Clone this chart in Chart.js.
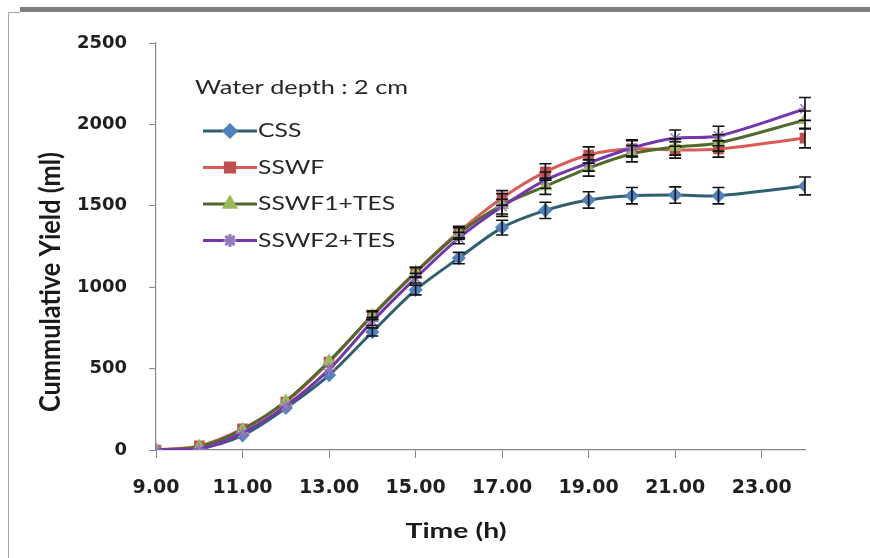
<!DOCTYPE html>
<html>
<head>
<meta charset="utf-8">
<script src="https://cdn.jsdelivr.net/npm/chart.js@4.4.1/dist/chart.umd.min.js"></script>
<style>
  html, body { margin: 0; padding: 0; background: #fff; }
  canvas { display: block; }
</style>
</head>
<body>
<canvas id="yieldChart" width="870" height="558"></canvas>
<script>
// time of day (h) - no reading at 23 h
const hours = [9, 10, 11, 12, 13, 14, 15, 16, 17, 18, 19, 20, 21, 22, 24];

const cssYield   = [0, 10, 90, 258, 460, 725, 983, 1179, 1366, 1472, 1536, 1562, 1566, 1562, 1622];
const sswfYield  = [0, 25, 130, 295, 540, 829, 1093, 1339, 1548, 1708, 1812, 1850, 1843, 1849, 1916];
const sswf1Yield = [0, 20, 125, 300, 545, 825, 1090, 1330, 1505, 1620, 1732, 1820, 1861, 1886, 2027];
const sswf2Yield = [0, 5, 105, 270, 495, 790, 1056, 1302, 1495, 1658, 1763, 1855, 1916, 1929, 2095];

// +/- error bars
const cssErr   = [0, 0, 0, 0, 0, 25, 30, 35, 45, 50, 50, 50, 50, 50, 55];
const sswfErr  = [0, 0, 0, 0, 0, 25, 30, 35, 45, 50, 50, 50, 50, 50, 60];
const sswf1Err = [0, 0, 0, 0, 0, 25, 30, 35, 70, 50, 50, 50, 50, 50, 55];
const sswf2Err = [0, 0, 0, 0, 0, 25, 30, 35, 45, 50, 50, 50, 50, 60, 70];

const seriesNames = ['CSS', 'SSWF', 'SSWF1+TES', 'SSWF2+TES'];
const xTicks = [9, 11, 13, 15, 17, 19, 21, 23];
const yTicks = [0, 500, 1000, 1500, 2000, 2500];

const noteText = 'Water depth : 2 cm';
const xTitle = 'Time (h)';
const yTitle = 'Cummulative Yield (ml)';

const allYields = [cssYield, sswfYield, sswf1Yield, sswf2Yield];
const allErrs = [cssErr, sswfErr, sswf1Err, sswf2Err];

function toPoints(values) {
  return hours.map((h, i) => ({ x: h, y: values[i] }));
}

const styles = [
  { line: '#2f6070', fill: '#4f81bd', stroke: '#4f81bd', shape: 'rectRot', r: 6 },
  { line: '#d95c57', fill: '#c0504d', stroke: '#c0504d', shape: 'rect', r: 6.5 },
  { line: '#4f6a2b', fill: '#9bbb59', stroke: '#9bbb59', shape: 'triangle', r: 6.5 },
  { line: '#7535ad', fill: '#9479bd', stroke: '#9479bd', shape: 'star', r: 6.5 }
];

// draw text stretched sideways, like the old excel picture
function wideText(ctx, text, x, y, font, sx, align) {
  ctx.save();
  ctx.font = font;
  ctx.textBaseline = 'middle';
  ctx.textAlign = 'left';
  const w = ctx.measureText(text).width * sx;
  let left = x;
  if (align === 'center') left = x - w / 2;
  ctx.translate(left, y);
  ctx.scale(sx, 1);
  ctx.fillText(text, 0, 0);
  ctx.restore();
}

const framePlugin = {
  id: 'frame',
  beforeDraw(chart) {
    const ctx = chart.ctx;
    ctx.save();
    ctx.fillStyle = '#ffffff';
    ctx.fillRect(0, 0, chart.width, chart.height);
    ctx.fillStyle = '#7f7f7f';
    ctx.fillRect(20, 7, chart.width - 20, 5);
    ctx.strokeStyle = '#a6a6a6';
    ctx.lineWidth = 1;
    ctx.beginPath();
    ctx.moveTo(8.5, chart.height);
    ctx.lineTo(8.5, 12.5);
    ctx.lineTo(20, 12.5);
    ctx.stroke();
    ctx.restore();
  }
};

const errorBarPlugin = {
  id: 'errorBars',
  afterDatasetsDraw(chart) {
    const ctx = chart.ctx;
    const yScale = chart.scales.y;
    ctx.save();
    ctx.strokeStyle = '#111111';
    ctx.lineWidth = 1.6;
    chart.data.datasets.forEach((ds, i) => {
      const meta = chart.getDatasetMeta(i);
      const errs = allErrs[i];
      meta.data.forEach((pt, j) => {
        const e = errs[j];
        if (!e) return;
        const v = allYields[i][j];
        const top = yScale.getPixelForValue(v + e);
        const bot = yScale.getPixelForValue(v - e);
        ctx.beginPath();
        ctx.moveTo(pt.x, top);
        ctx.lineTo(pt.x, bot);
        ctx.moveTo(pt.x - 6, top);
        ctx.lineTo(pt.x + 6, top);
        ctx.moveTo(pt.x - 6, bot);
        ctx.lineTo(pt.x + 6, bot);
        ctx.stroke();
      });
    });
    ctx.restore();
  }
};

const textPlugin = {
  id: 'texts',
  afterDraw(chart) {
    const ctx = chart.ctx;
    ctx.fillStyle = '#262626';
    wideText(ctx, noteText, 195, 88, '19px Lato', 1.33, 'left');

    // legend
    chart.data.datasets.forEach((ds, i) => {
      const st = styles[i];
      const y = 131 + i * 36.5;
      ctx.save();
      ctx.strokeStyle = st.line;
      ctx.lineWidth = 3;
      ctx.beginPath();
      ctx.moveTo(203, y);
      ctx.lineTo(257, y);
      ctx.stroke();
      ctx.fillStyle = st.fill;
      ctx.strokeStyle = st.stroke;
      Chart.helpers.drawPoint(ctx, { pointStyle: st.shape, radius: st.r, rotation: 0, borderWidth: 1.5 }, 230, y);
      ctx.restore();
      ctx.fillStyle = '#262626';
      wideText(ctx, ds.label, 258, y, '19px Lato', 1.3, 'left');
    });

    // axis titles
    ctx.fillStyle = '#1a1a1a';
    wideText(ctx, xTitle, 456, 531, 'bold 21px Lato', 1.35, 'center');

    ctx.save();
    ctx.translate(51, 282);
    ctx.rotate(-Math.PI / 2);
    ctx.scale(1, 1.3);
    ctx.font = 'bold 22px Lato';
    ctx.textAlign = 'center';
    ctx.textBaseline = 'middle';
    const w = ctx.measureText(yTitle).width;
    ctx.scale(260 / w, 1);
    ctx.fillText(yTitle, 0, 0);
    ctx.restore();
  }
};

const datasets = allYields.map((vals, i) => ({
  label: seriesNames[i],
  data: toPoints(vals),
  borderColor: styles[i].line,
  borderWidth: 3,
  backgroundColor: styles[i].fill,
  pointStyle: styles[i].shape,
  pointRadius: styles[i].r,
  pointBackgroundColor: styles[i].fill,
  pointBorderColor: styles[i].stroke,
  pointBorderWidth: 1.5,
  tension: 0.3,
  order: 4 - i
}));

new Chart(document.getElementById('yieldChart'), {
  type: 'line',
  data: { datasets: datasets },
  options: {
    responsive: false,
    animation: false,
    layout: { padding: { left: 0, right: 65, top: 43, bottom: 0 } },
    plugins: {
      legend: { display: false },
      tooltip: { enabled: false }
    },
    scales: {
      x: {
        type: 'linear',
        min: 9,
        max: 24,
        afterBuildTicks: s => { s.ticks = xTicks.map(v => ({ value: v })); },
        afterFit: s => { s.height = 108; },
        ticks: {
          autoSkip: false,
          maxRotation: 0,
          padding: 19,
          color: '#1f1f1f',
          font: { family: 'DejaVu Sans', weight: 'bold', size: 19 },
          callback: v => v.toFixed(2)
        },
        grid: { drawOnChartArea: false, tickLength: 8, color: '#868686' },
        border: { color: '#868686', width: 1.2 }
      },
      y: {
        min: 0,
        max: 2500,
        afterBuildTicks: s => { s.ticks = yTicks.map(v => ({ value: v })); },
        afterFit: s => { s.width = 156; },
        ticks: {
          padding: 22,
          color: '#1f1f1f',
          font: { family: 'DejaVu Sans', weight: 'bold', size: 18 },
          callback: v => String(v)
        },
        grid: { drawOnChartArea: false, tickLength: 7, color: '#868686' },
        border: { color: '#868686', width: 1.2 }
      }
    }
  },
  plugins: [framePlugin, errorBarPlugin, textPlugin]
});
</script>
</body>
</html>
